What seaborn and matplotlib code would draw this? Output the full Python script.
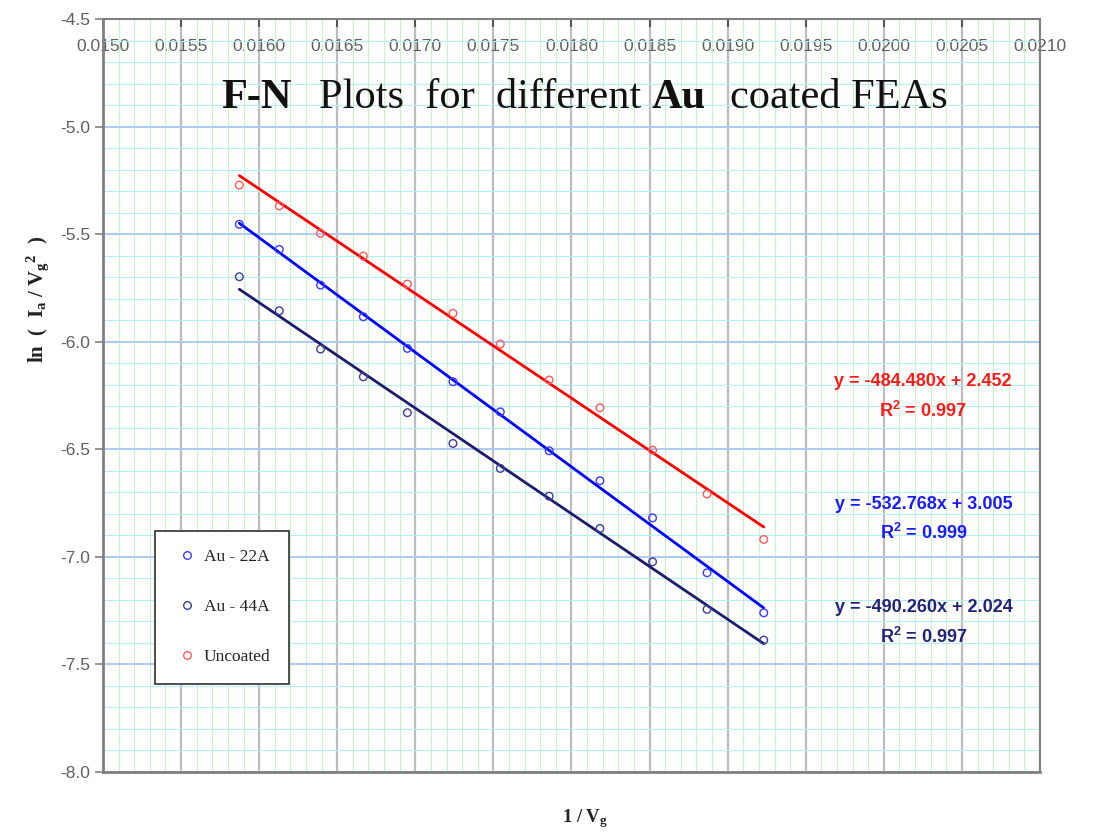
import numpy as np
import pandas as pd
import matplotlib
matplotlib.use("Agg")
import matplotlib.pyplot as plt
import seaborn as sns
from matplotlib.lines import Line2D
from matplotlib.ticker import MultipleLocator, FormatStrFormatter
from matplotlib.offsetbox import TextArea, HPacker, AnchoredOffsetbox, DrawingArea

# ---------------- data ----------------
inv_vg = [0.015873, 0.016129, 0.016393, 0.016667, 0.016949, 0.017241,
          0.017544, 0.017857, 0.018182, 0.018519, 0.018868, 0.019231]
ln_au22 = [-5.454, -5.571, -5.737, -5.884, -6.031, -6.186,
           -6.326, -6.507, -6.646, -6.819, -7.074, -7.260]
ln_au44 = [-5.698, -5.856, -6.034, -6.163, -6.330, -6.473,
           -6.589, -6.718, -6.868, -7.023, -7.244, -7.387]
ln_uncoated = [-5.272, -5.369, -5.496, -5.602, -5.732, -5.868,
               -6.011, -6.178, -6.307, -6.504, -6.708, -6.919]
series_names = ["Au - 22A", "Au - 44A", "Uncoated"]
fit_texts = [("y = -532.768x + 3.005", "R$^2$ = 0.999"),
             ("y = -490.260x + 2.024", "R$^2$ = 0.997"),
             ("y = -484.480x + 2.452", "R$^2$ = 0.997")]

line_colors = ["#0000ff", "#1c1c6e", "#ff0000"]
marker_colors = ["#3a3aff", "#3c3c9c", "#ff5a5a"]
text_colors = ["#1a1aff", "#22227a", "#ff1a1a"]

df = pd.DataFrame({
    "x": inv_vg * 3,
    "y": ln_au22 + ln_au44 + ln_uncoated,
    "series": [s for s in series_names for _ in inv_vg],
})

# ---------------- style ----------------
sns.set_style("white")
plt.rcParams["font.family"] = ["Liberation Sans", "DejaVu Sans"]
plt.rcParams["axes.unicode_minus"] = False
plt.rcParams["mathtext.default"] = "regular"

fig = plt.figure(figsize=(11.01, 8.35), dpi=100)
ax = fig.add_axes([103 / 1101, 1 - 772 / 835, 937 / 1101, 753 / 835])

for name, lc, mc in zip(series_names, line_colors, marker_colors):
    sub = df[df["series"] == name]
    sns.regplot(data=sub, x="x", y="y", ax=ax, ci=None, scatter=False,
                truncate=True, line_kws=dict(color=lc, lw=2.0, zorder=3))
    sns.scatterplot(data=sub, x="x", y="y", ax=ax, marker="o", s=30,
                    color=mc, facecolor="none", edgecolor=mc, linewidth=1.0,
                    zorder=4)

ax.set_xlim(0.0150, 0.0210)
ax.set_ylim(-8.0, -4.5)
ax.xaxis.set_major_locator(MultipleLocator(0.0005))
ax.xaxis.set_minor_locator(MultipleLocator(0.0001))
ax.yaxis.set_major_locator(MultipleLocator(0.5))
ax.yaxis.set_minor_locator(MultipleLocator(0.1))
ax.xaxis.set_major_formatter(FormatStrFormatter("%.4f"))
ax.yaxis.set_major_formatter(FormatStrFormatter("%.1f"))

ax.set_axisbelow(True)
ax.grid(which="minor", axis="x", color="#c6f5c6", lw=0.8)
ax.grid(which="minor", axis="y", color="#b2f1f1", lw=0.8)
ax.grid(which="major", axis="x", color="#bdbdbd", lw=1.6)
ax.grid(which="major", axis="y", color="#a9cbf3", lw=1.4)

ax.tick_params(which="minor", length=0)
ax.tick_params(axis="x", which="major", top=True, bottom=False, labeltop=True,
               labelbottom=False, direction="in", length=6, width=1.2,
               color="#404040", pad=-25, labelsize=12.5, labelcolor="#5f5f5f")
ax.tick_params(axis="y", which="major", left=True, right=False, direction="out",
               length=6, width=1.2, color="#808080", pad=3, labelsize=12.5,
               labelcolor="#5f5f5f")

for side, lw in [("left", 2.0), ("bottom", 2.0), ("top", 1.5), ("right", 1.5)]:
    ax.spines[side].set_visible(True)
    ax.spines[side].set_color("#808080")
    ax.spines[side].set_linewidth(lw)

# axis labels
ax.set_xlabel("1 / V$_g$", fontsize=13.5, family="Liberation Serif",
              fontweight="bold", color="#222222")
ax.xaxis.set_label_coords(0.514, -0.046)
ax.set_ylabel("ln  (  I$_a$ / V$_g$$^{ 2}$  )", fontsize=15,
              family="Liberation Serif", fontweight="bold", color="#222222")
ax.yaxis.set_label_coords(-0.056, 0.627)

# title with mixed weight
tp_b = dict(fontsize=30.5, family="Liberation Serif", fontweight="bold", color="#111111")
tp_r = dict(fontsize=30.5, family="Liberation Serif", fontweight="normal", color="#111111")
pieces = [TextArea("F-N", textprops=tp_b), DrawingArea(20, 1),
          TextArea("Plots  for  different", textprops=tp_r), DrawingArea(7, 1),
          TextArea("Au", textprops=tp_b), DrawingArea(18, 1),
          TextArea("coated FEAs", textprops=tp_r)]
title_box = HPacker(children=pieces, sep=0, pad=0, align="baseline")
anch = AnchoredOffsetbox(loc="center", child=title_box, pad=0, borderpad=0,
                         frameon=False, bbox_to_anchor=(0.514, 0.895),
                         bbox_transform=ax.transAxes)
ax.add_artist(anch)

# fit equations
eq_pos = [(0.876, 0.355, 0.317), (0.876, 0.218, 0.179), (0.875, 0.518, 0.479)]
for (eq, r2), (xp, y1, y2), tc in zip(fit_texts, eq_pos, text_colors):
    ax.text(xp, y1, eq, transform=ax.transAxes, ha="center", va="center",
            fontsize=13, fontweight="bold", color=tc)
    ax.text(xp, y2, r2, transform=ax.transAxes, ha="center", va="center",
            fontsize=13, fontweight="bold", color=tc)

# legend
handles = [Line2D([], [], marker="o", ls="none", mfc="none", mec=mc, mew=1.0, ms=5.5)
           for mc in marker_colors]
leg = ax.legend(handles, series_names, loc="upper left",
                bbox_to_anchor=(0.0555, 0.320), borderaxespad=0, frameon=True,
                fancybox=False, edgecolor="#404040", framealpha=1,
                labelspacing=1.95, handlelength=1.6, handletextpad=0.15,
                borderpad=1.05, prop=dict(family="Liberation Serif", size=12.5))
leg.get_frame().set_linewidth(1.3)
for t in leg.get_texts():
    t.set_color("#222222")

fig.savefig("out.png", dpi=100, facecolor="white")
